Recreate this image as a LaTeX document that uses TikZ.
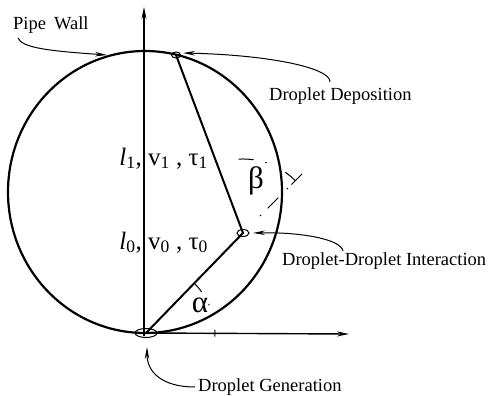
\documentclass[tikz,border=0pt]{standalone}
\usepackage{fontspec}
\setmainfont{Liberation Serif}
\usetikzlibrary{arrows.meta,shapes.geometric}
\begin{document}
\begin{tikzpicture}[x=1pt,y=-1pt,
  lbl/.style={inner sep=0pt, anchor=base west, font=\fontsize{18.5}{20}\selectfont},
  mlbl/.style={inner sep=0pt, font=\fontsize{25}{27}\selectfont},
  glbl/.style={inner sep=0pt, font=\fontsize{31}{33}\selectfont},
  leader/.style={line width=1pt, -{Stealth[length=12pt,width=4.5pt]}},
  axisline/.style={line width=1.4pt, -{Stealth[length=12pt,width=5pt]}},
  traj/.style={line width=2pt},
  dd/.style={line width=1pt},
  spot/.style={draw, ellipse, line width=1pt, inner sep=0pt}
]
\useasboundingbox (0,0) rectangle (488,396);

% pipe wall
\draw[line width=2.2pt] (145,192) ellipse [x radius=137pt, y radius=141pt];

% spots
\node[spot, minimum width=22pt, minimum height=9pt] (gen) at (146,333) {};
\node[spot, minimum width=12pt, minimum height=7pt] (int) at (243,233) {};
\node[spot, minimum width=9pt, minimum height=6pt] (dep) at (176,55) {};

% axes
\coordinate (ybot) at (144,336);
\coordinate (ytop) at (144,7);
\coordinate (xend) at (349,334);
\draw[axisline] (ybot) -- (ytop);
\draw[axisline] (gen.center) -- (xend);

% trajectory
\draw[traj] (gen.center) -- (int.center) -- (dep.center);

% extension line (dash-dot)
\coordinate (ext) at (302,174);
\draw[dd, dash pattern=on 0pt off 24pt on 1.5pt off 9.5pt on 15pt off 12pt on 1.5pt off 5pt on 20pt off 20pt] (int.center) -- (ext);

% beta arc
\draw[dd, dash pattern=on 1.5pt off 21pt on 15pt off 12pt] (216.7,163.8) arc[start angle=110.8, end angle=45, radius=74pt];

% alpha arc
\draw[dd, dash pattern=on 11pt off 14pt on 1.5pt off 25pt on 10pt off 20pt] (194.5,283.5) arc[start angle=45, end angle=-3, radius=70pt];

% labels
\node[mlbl, anchor=base east] (l1) at (142,165) {{\itshape l}\textsubscript{1},};
\node[mlbl, anchor=base west] (v1) at (148,165) {v\textsubscript{1} , τ\textsubscript{1}};
\node[mlbl, anchor=base east] (l0) at (142,249) {{\itshape l}\textsubscript{0},};
\node[mlbl, anchor=base west] (v0) at (148,249) {v\textsubscript{0} , τ\textsubscript{0}};
\node[glbl] (beta) at (256,181) {β};
\node[glbl] (alpha) at (200,305) {α};

\node[lbl] (pw) at (13,30) {Pipe\hspace{8pt}Wall};
\node[lbl] (ddl) at (269,101) {Droplet Deposition};
\node[lbl] (dil) at (282,265) {Droplet-Droplet Interaction};
\node[lbl] (dgl) at (198,391) {Droplet Generation};

% leaders
\coordinate (pwstart) at (18,38);
\coordinate (pwtip) at (107,55);
\coordinate (ddstart) at (330,82);
\coordinate (ddtip) at (183,53);
\coordinate (distart) at (343,251);
\coordinate (ditip) at (253,233);
\coordinate (dgstart) at (195,387);
\coordinate (dgtip) at (147,347);
\draw[leader] (pwstart) .. controls (22,48) and (50,51) .. (pwtip);
\draw[leader] (ddstart) .. controls (331,68) and (270,55) .. (ddtip);
\draw[leader] (distart) .. controls (341,239) and (300,232) .. (ditip);
\draw[leader] (dgstart) .. controls (162,387) and (147,372) .. (dgtip);
\end{tikzpicture}
\end{document}
